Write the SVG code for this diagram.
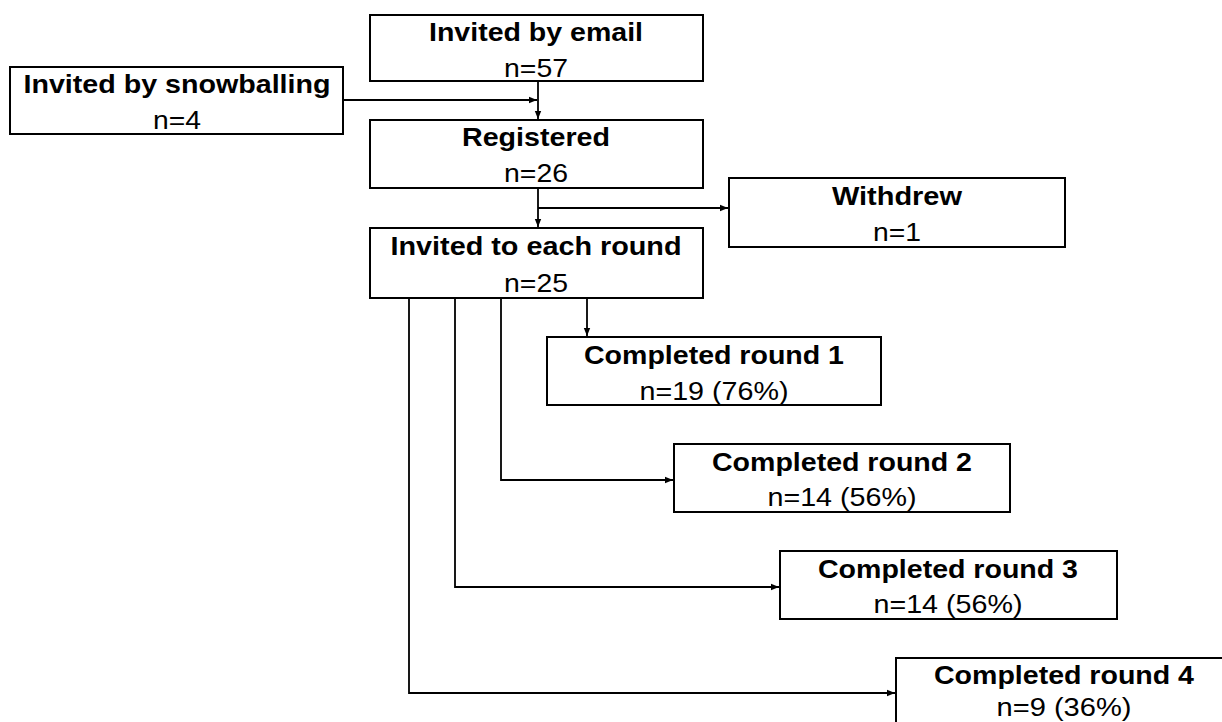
<svg xmlns="http://www.w3.org/2000/svg" width="1222" height="722" viewBox="0 0 1222 722">
<style>
.box{fill:#fff;stroke:#000;stroke-width:2}
.t{font-family:"Liberation Sans",Arial,sans-serif;font-size:25px;fill:#000;text-anchor:middle}
.b{font-weight:bold}
.c{fill:none;stroke:#000;stroke-width:1.8}
</style>
<defs>
<marker id="ah" markerUnits="userSpaceOnUse" markerWidth="9" markerHeight="8" refX="8" refY="4" orient="auto">
<path d="M0,0.8 L8,4 L0,7.2 z" fill="#000"/>
</marker>
</defs>
<rect width="1222" height="722" fill="#fff"/>
<g id="connectors">
<path class="c" d="M538,81 V119" marker-end="url(#ah)"/>
<path class="c" d="M343,100 H537" marker-end="url(#ah)"/>
<path class="c" d="M538,188 V227" marker-end="url(#ah)"/>
<path class="c" d="M538,208 H728" marker-end="url(#ah)"/>
<path class="c" d="M587,298 V336" marker-end="url(#ah)"/>
<path class="c" d="M501,298 V480 H673" marker-end="url(#ah)"/>
<path class="c" d="M455,298 V587 H779" marker-end="url(#ah)"/>
<path class="c" d="M409,298 V693 H895" marker-end="url(#ah)"/>
</g>
<g id="email">
<rect class="box" x="370" y="15" width="333" height="66"/>
<text class="t b" x="536" y="41" textLength="214" lengthAdjust="spacingAndGlyphs">Invited by email</text>
<text class="t" x="536" y="77" textLength="64" lengthAdjust="spacingAndGlyphs">n=57</text>
</g>
<g id="snowballing">
<rect class="box" x="10" y="67" width="333" height="67"/>
<text class="t b" x="177" y="93" textLength="307" lengthAdjust="spacingAndGlyphs">Invited by snowballing</text>
<text class="t" x="177" y="129" textLength="48" lengthAdjust="spacingAndGlyphs">n=4</text>
</g>
<g id="registered">
<rect class="box" x="370" y="120" width="333" height="68"/>
<text class="t b" x="536" y="146" textLength="148" lengthAdjust="spacingAndGlyphs">Registered</text>
<text class="t" x="536" y="182" textLength="64" lengthAdjust="spacingAndGlyphs">n=26</text>
</g>
<g id="withdrew">
<rect class="box" x="729" y="178" width="336" height="69"/>
<text class="t b" x="897" y="205" textLength="130" lengthAdjust="spacingAndGlyphs">Withdrew</text>
<text class="t" x="897" y="241" textLength="48" lengthAdjust="spacingAndGlyphs">n=1</text>
</g>
<g id="invited-each-round">
<rect class="box" x="370" y="228" width="333" height="70"/>
<text class="t b" x="536" y="255" textLength="291" lengthAdjust="spacingAndGlyphs">Invited to each round</text>
<text class="t" x="536" y="292" textLength="64" lengthAdjust="spacingAndGlyphs">n=25</text>
</g>
<g id="round1">
<rect class="box" x="547" y="337" width="334" height="68"/>
<text class="t b" x="714" y="364" textLength="260" lengthAdjust="spacingAndGlyphs">Completed round 1</text>
<text class="t" x="714" y="400" textLength="149" lengthAdjust="spacingAndGlyphs">n=19 (76%)</text>
</g>
<g id="round2">
<rect class="box" x="674" y="444" width="336" height="68"/>
<text class="t b" x="842" y="471" textLength="260" lengthAdjust="spacingAndGlyphs">Completed round 2</text>
<text class="t" x="842" y="506" textLength="149" lengthAdjust="spacingAndGlyphs">n=14 (56%)</text>
</g>
<g id="round3">
<rect class="box" x="780" y="551" width="337" height="68"/>
<text class="t b" x="948" y="578" textLength="260" lengthAdjust="spacingAndGlyphs">Completed round 3</text>
<text class="t" x="948" y="613" textLength="149" lengthAdjust="spacingAndGlyphs">n=14 (56%)</text>
</g>
<g id="round4">
<rect class="box" x="896" y="658" width="336" height="70"/>
<text class="t b" x="1064" y="684" textLength="260" lengthAdjust="spacingAndGlyphs">Completed round 4</text>
<text class="t" x="1064" y="716" textLength="135" lengthAdjust="spacingAndGlyphs">n=9 (36%)</text>
</g>
</svg>
